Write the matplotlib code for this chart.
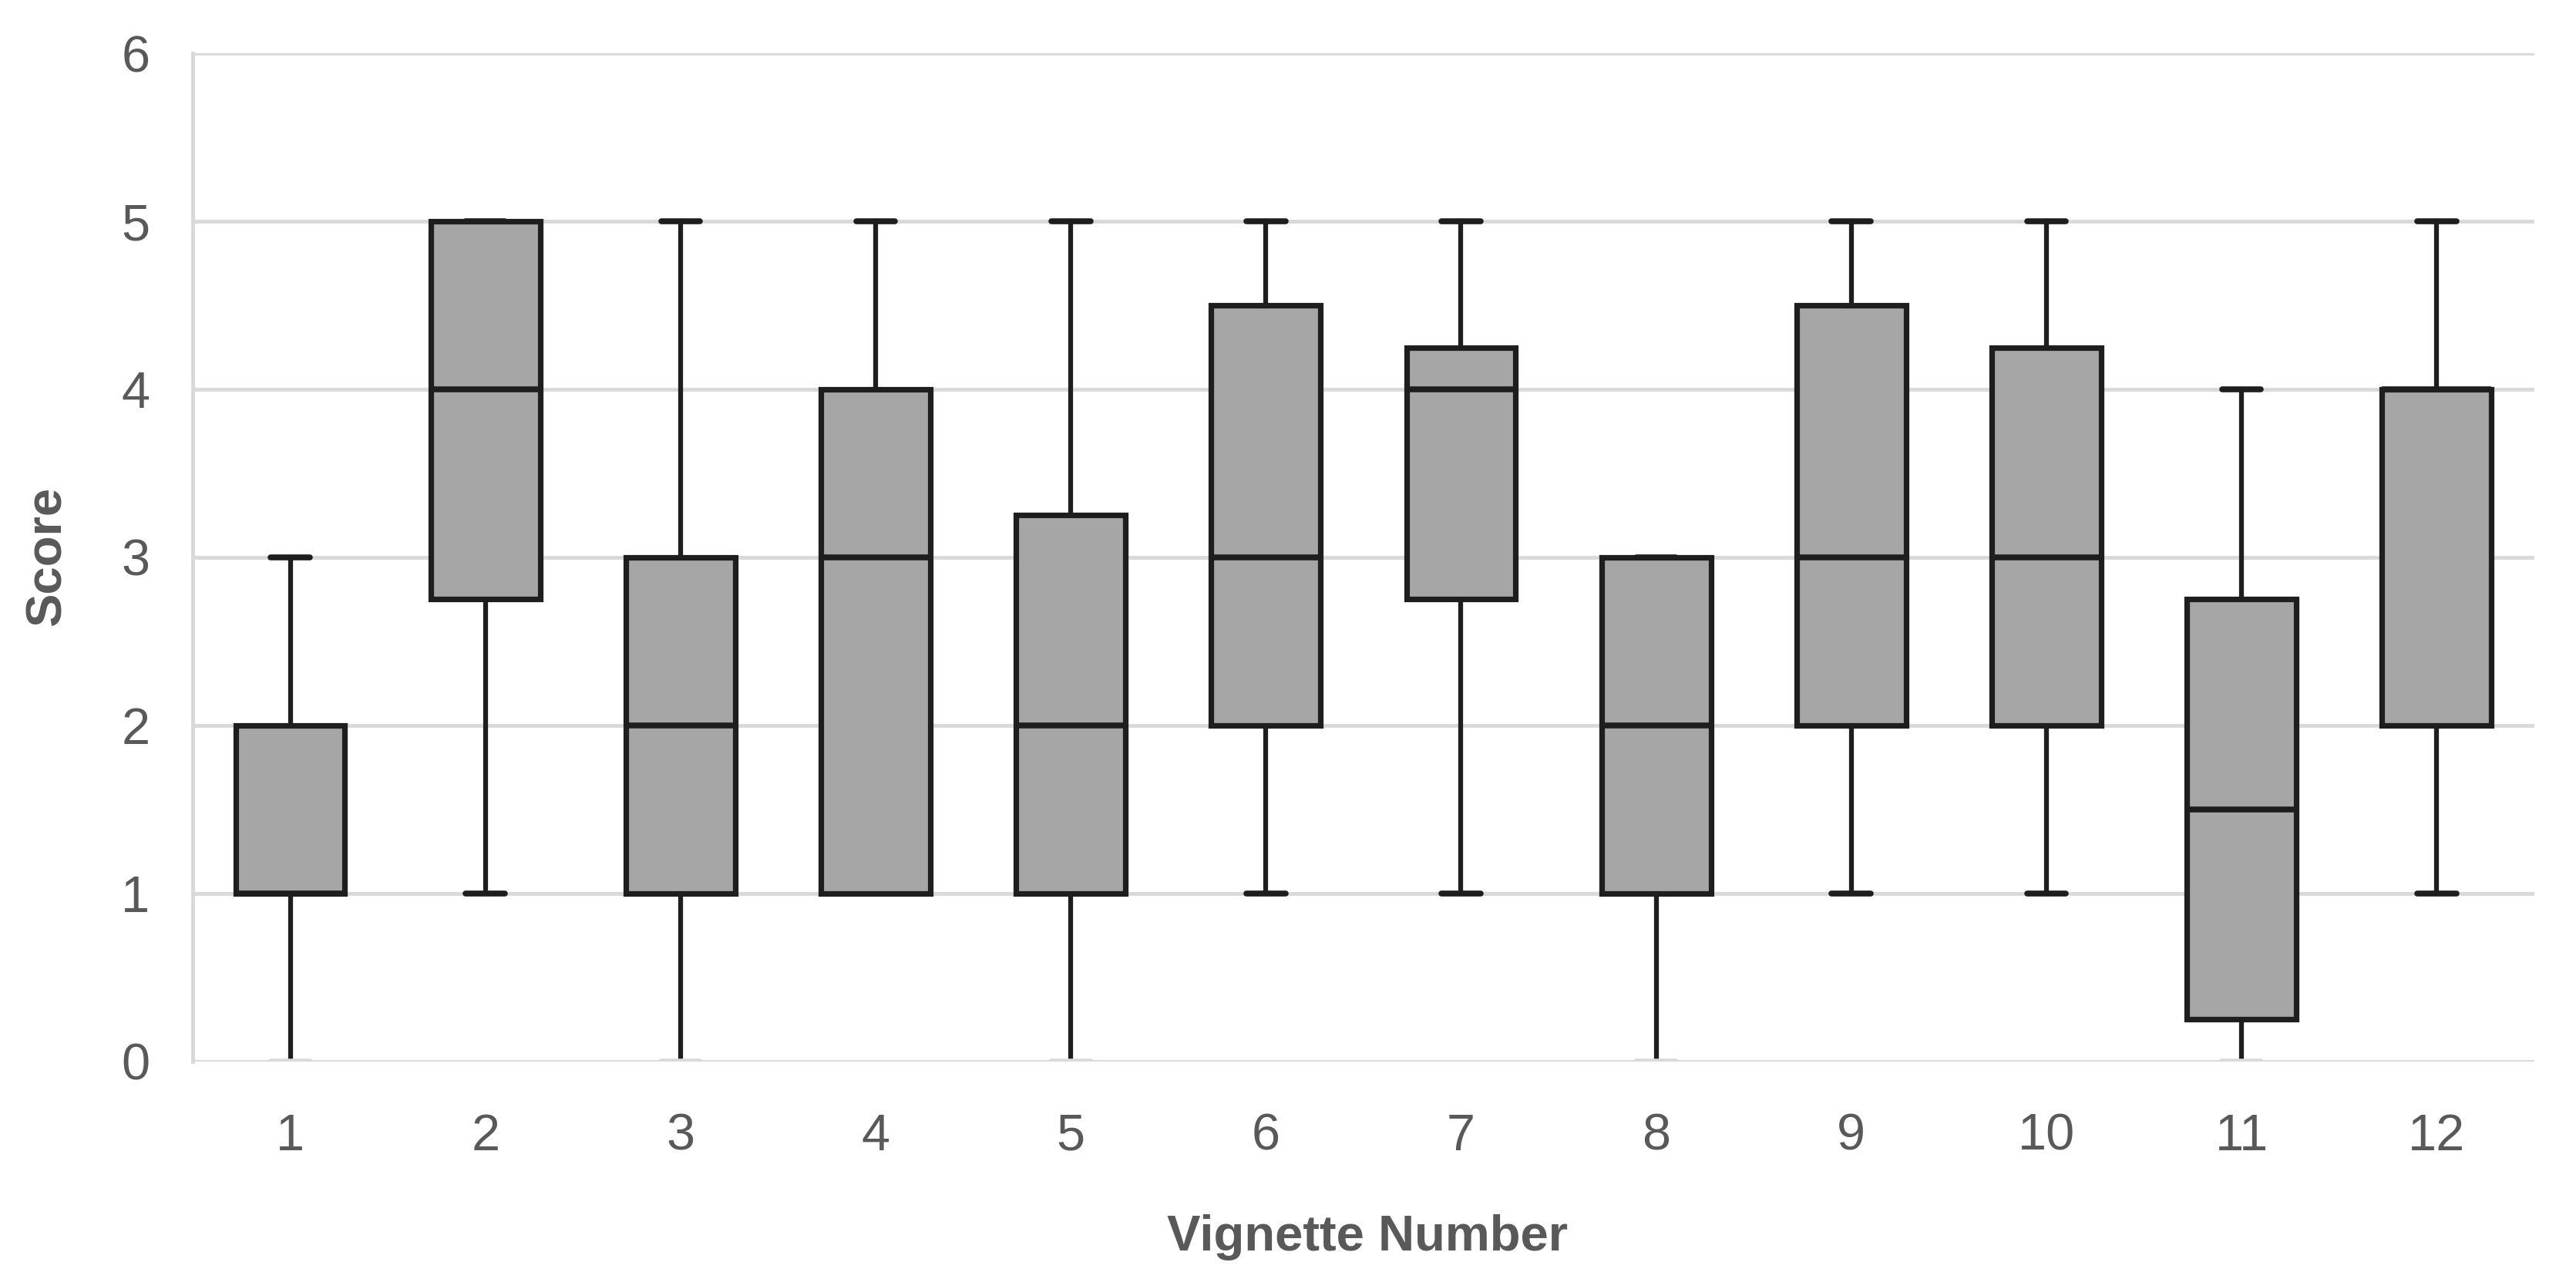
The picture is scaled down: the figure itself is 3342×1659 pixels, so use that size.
import matplotlib
matplotlib.use("Agg")
import matplotlib.pyplot as plt

vignettes = [1, 2, 3, 4, 5, 6, 7, 8, 9, 10, 11, 12]
mins    = [0, 1, 0, 1, 0, 1, 1, 0, 1, 1, 0, 1]
q1s     = [1, 2.75, 1, 1, 1, 2, 2.75, 1, 2, 2, 0.25, 2]
medians = [1, 4, 2, 3, 2, 3, 4, 2, 3, 3, 1.5, 4]
q3s     = [2, 5, 3, 4, 3.25, 4.5, 4.25, 3, 4.5, 4.25, 2.75, 4]
maxs    = [3, 5, 5, 5, 5, 5, 5, 3, 5, 5, 4, 5]
y_ticks = [0, 1, 2, 3, 4, 5, 6]

TEXT = "#595959"
GRID = "#d9d9d9"
LINE = "#1e1e1e"
FILL = "#a6a6a6"

plt.rcParams['font.family'] = ['Liberation Sans', 'DejaVu Sans']

fig = plt.figure(figsize=(33.42, 16.59), dpi=100)
ax = fig.add_axes([0.0748, 0.17, 0.9090, 0.7884])

stats = []
for v, lo, a, m, b, hi in zip(vignettes, mins, q1s, medians, q3s, maxs):
    stats.append(dict(label=str(v), whislo=lo, q1=a, med=m, q3=b, whishi=hi, fliers=[]))

res = ax.bxp(stats, positions=range(1, len(vignettes) + 1), widths=0.56,
             capwidths=0.2, patch_artist=True, showfliers=False,
             boxprops=dict(facecolor=FILL, edgecolor=LINE, linewidth=5.2),
             medianprops=dict(color=LINE, linewidth=5.5, solid_capstyle='butt'),
             whiskerprops=dict(color=LINE, linewidth=4.5),
             capprops=dict(color=LINE, linewidth=5.5, solid_capstyle='round'))
for b in res['boxes']:
    b.set_zorder(3)
for m in res['medians']:
    m.set_zorder(4)
# caps at the zero line are barely visible in the reference
for i, lo in enumerate(mins):
    if lo == 0:
        res['caps'][2 * i].set_color(GRID)

ax.set_xlim(0.5, len(vignettes) + 0.5)
ax.set_ylim(0, 6)
ax.set_yticks(y_ticks)
ax.set_xticks(range(1, len(vignettes) + 1))
ax.set_xticklabels([str(v) for v in vignettes])
ax.yaxis.grid(True, color=GRID, linewidth=3.5, zorder=0)
ax.set_axisbelow(True)
for s in ['top', 'right', 'bottom']:
    ax.spines[s].set_visible(False)
ax.spines['left'].set_color(GRID)
ax.spines['left'].set_linewidth(3.5)
ax.tick_params(axis='both', length=0, labelsize=48, labelcolor=TEXT)
ax.tick_params(axis='y', pad=40)
ax.tick_params(axis='x', pad=48)

ax.set_xlabel("Vignette Number", fontsize=47, fontweight='bold', color=TEXT)
ax.xaxis.set_label_coords(0.5017, -0.174)
ax.xaxis.label.set_va('center')
ax.set_ylabel("Score", fontsize=47, fontweight='bold', color=TEXT)
ax.yaxis.set_label_coords(-0.062, 0.5015)
ax.yaxis.label.set_va('center')

fig.savefig("out.png", dpi=100, facecolor='white')
